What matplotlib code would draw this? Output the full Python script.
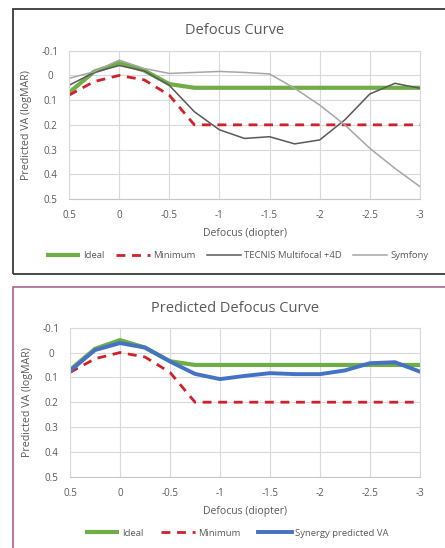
import matplotlib
matplotlib.use("Agg")
import matplotlib.pyplot as plt
from matplotlib.patches import Rectangle

plt.rcParams['font.family'] = ['Open Sans', 'DejaVu Sans']

defocus = [0.5, 0.25, 0, -0.25, -0.5, -0.75, -1, -1.25, -1.5, -1.75, -2, -2.25, -2.5, -2.75, -3]
ideal = [0.07, -0.015, -0.05, -0.02, 0.035, 0.05, 0.05, 0.05, 0.05, 0.05, 0.05, 0.05, 0.05, 0.05, 0.05]
minimum = [0.08, 0.025, 0.0, 0.018, 0.08, 0.2, 0.2, 0.2, 0.2, 0.2, 0.2, 0.2, 0.2, 0.2, 0.2]
tecnis = [0.04, -0.012, -0.04, -0.018, 0.04, 0.147, 0.22, 0.255, 0.248, 0.277, 0.261, 0.18, 0.075, 0.032, 0.052]
symfony = [0.012, -0.015, -0.062, -0.028, -0.008, -0.012, -0.016, -0.012, -0.006, 0.052, 0.12, 0.2, 0.295, 0.376, 0.45]
synergy = [0.074, -0.01, -0.038, -0.02, 0.036, 0.086, 0.107, 0.094, 0.083, 0.087, 0.087, 0.072, 0.043, 0.039, 0.077]

xticks = [0.5, 0, -0.5, -1, -1.5, -2, -2.5, -3]
xticklabels = ["0.5", "0", "-0.5", "-1", "-1.5", "-2", "-2.5", "-3"]
yticks = [-0.1, 0, 0.1, 0.2, 0.3, 0.4, 0.5]
yticklabels = ["-0.1", "0", "0.1", "0.2", "0.3", "0.4", "0.5"]

GREEN = "#70ad47"
RED = "#d0202a"
DARK = "#595959"
LIGHT = "#a6a6a6"
BLUE = "#4472c4"
TXT = "#595959"
GRID = "#d9d9d9"

W, H = 445, 548
fig = plt.figure(figsize=(W / 100, H / 100), dpi=100)

def fx(px):
    return px / W

def fy(py):
    return 1 - py / H

# panel borders
fig.patches.append(Rectangle((fx(13), fy(274)), fx(500), fy(9) - fy(274), transform=fig.transFigure,
                             fill=False, edgecolor="#3a3a3a", linewidth=1.3))
fig.patches.append(Rectangle((fx(13), fy(600)), fx(500), fy(287) - fy(600), transform=fig.transFigure,
                             fill=False, edgecolor="#a8568a", linewidth=1.1))


def style_axes(ax):
    ax.set_xlim(0.5, -3)
    ax.set_ylim(0.5, -0.1)
    ax.set_xticks(xticks)
    ax.set_xticklabels(xticklabels)
    ax.set_yticks(yticks)
    ax.set_yticklabels(yticklabels)
    ax.tick_params(length=0, labelsize=7, labelcolor=TXT, pad=8)
    ax.tick_params(axis='y', pad=13.5)
    for lbl in ax.get_yticklabels():
        lbl.set_horizontalalignment('center')
    ax.grid(True, color=GRID, linewidth=0.8)
    ax.set_axisbelow(True)
    for s in ax.spines.values():
        s.set_color(GRID)
        s.set_linewidth(0.8)
    ax.spines['bottom'].set_color("#c8c8c8")
    ax.set_ylabel("Predicted VA (logMAR)", fontsize=7.7, color=TXT, labelpad=7)
    ax.set_xlabel("Defocus (diopter)", fontsize=7.5, color=TXT, labelpad=5)


dash = (0, (3.2, 2.4))

# top chart
ax1 = fig.add_axes([fx(69), fy(199), fx(420) - fx(69), fy(50.7) - fy(199)])
style_axes(ax1)
ax1.plot(defocus, ideal, color=GREEN, linewidth=3.0, label="Ideal", solid_capstyle='butt')
ax1.plot(defocus, minimum, color=RED, linewidth=2.0, linestyle=dash, label="Minimum")
ax1.plot(defocus, tecnis, color=DARK, linewidth=1.1, label="TECNIS Multifocal +4D")
ax1.plot(defocus, symfony, color=LIGHT, linewidth=1.1, label="Symfony")
fig.text(fx(235), fy(30), "Defocus Curve", fontsize=10.5, color=TXT, ha='center', va='center')
h, l = ax1.get_legend_handles_labels()
fig.legend(h, l, loc='center', bbox_to_anchor=(fx(237), fy(256)), ncol=4, frameon=False,
           fontsize=6.8, labelcolor=TXT, handlelength=3.6, handletextpad=0.3, columnspacing=1.25)

# bottom chart
ax2 = fig.add_axes([fx(70), fy(476.7), fx(420) - fx(70), fy(327.7) - fy(476.7)])
style_axes(ax2)
ax2.plot(defocus, ideal, color=GREEN, linewidth=3.0, label="Ideal", solid_capstyle='butt')
ax2.plot(defocus, minimum, color=RED, linewidth=2.0, linestyle=dash, label="Minimum")
ax2.plot(defocus, synergy, color=BLUE, linewidth=2.8, label="Synergy predicted VA")
fig.text(fx(235), fy(308), "Predicted Defocus Curve", fontsize=10.5, color=TXT, ha='center', va='center')
h, l = ax2.get_legend_handles_labels()
fig.legend(h, l, loc='center', bbox_to_anchor=(fx(237), fy(533)), ncol=3, frameon=False,
           fontsize=6.8, labelcolor=TXT, handlelength=3.6, handletextpad=0.3, columnspacing=1.9)

fig.savefig("out.png", dpi=100)
